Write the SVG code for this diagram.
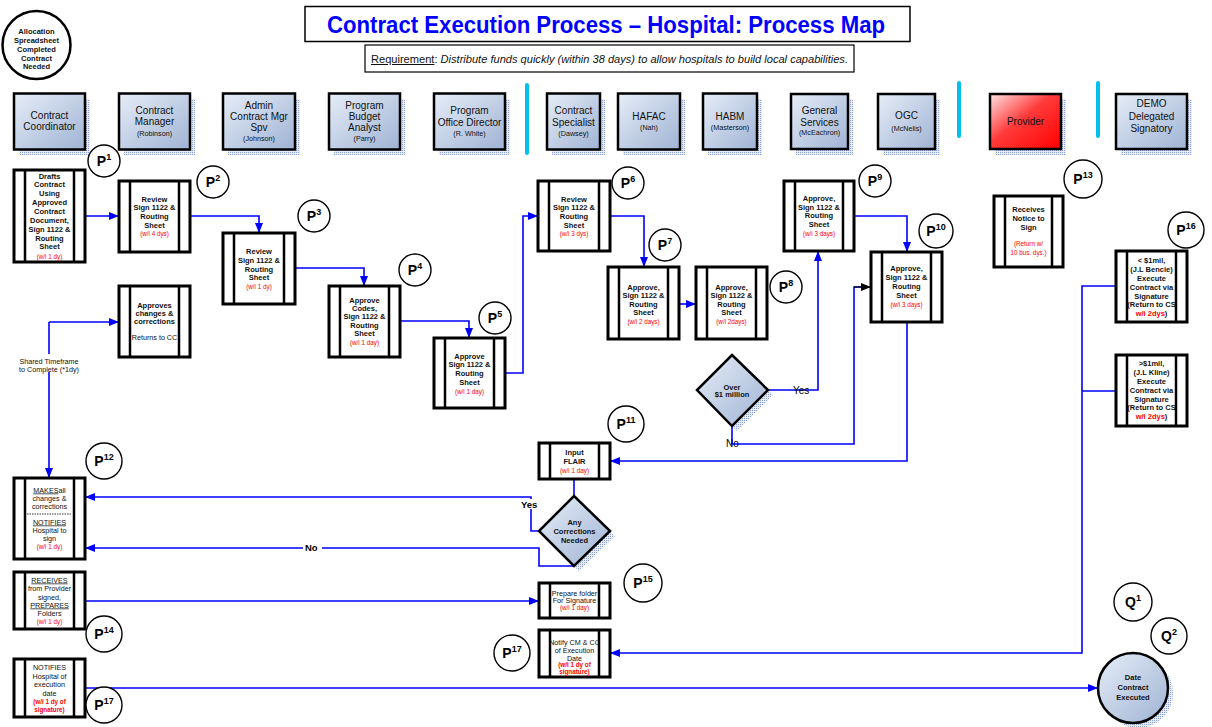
<svg xmlns="http://www.w3.org/2000/svg" width="1212" height="727" viewBox="0 0 1212 727">
<defs>
<linearGradient id="hg" x1="0" y1="0" x2="1" y2="1"><stop offset="0" stop-color="#e6edf7"/><stop offset="1" stop-color="#9fb3d4"/></linearGradient>
<linearGradient id="rg" x1="0" y1="0" x2="1" y2="1"><stop offset="0" stop-color="#ffe4e4"/><stop offset="0.45" stop-color="#ff3a3a"/><stop offset="1" stop-color="#ff0000"/></linearGradient>
<pattern id="dots" width="2" height="2" patternUnits="userSpaceOnUse"><rect width="2" height="2" fill="#e8ecf8"/><rect width="1" height="1" fill="#8fa4d6"/></pattern>
<marker id="ah" markerWidth="10" markerHeight="8" refX="10" refY="4" orient="auto" markerUnits="userSpaceOnUse"><path d="M0,0 L10,4 L0,8 z" fill="#0000ff"/></marker>
<marker id="ak" markerWidth="10" markerHeight="8" refX="10" refY="4" orient="auto" markerUnits="userSpaceOnUse"><path d="M0,0 L10,4 L0,8 z" fill="#000"/></marker>
</defs>
<style>
text{font-family:'Liberation Sans',Arial,sans-serif}
.pb{fill:#fff;stroke:#000;stroke-width:3}
.pv{stroke:#000;stroke-width:2.5}
.hb{fill:url(#hg);stroke:#000;stroke-width:2.5}
.sh{fill:url(#dots)}
.b{font-size:7.5px;font-weight:bold;text-anchor:middle;fill:#111}
.r{font-size:6.3px;text-anchor:middle;fill:#ff0000}
.n{font-size:7.2px;text-anchor:middle;fill:#111}
.h{font-size:10px;text-anchor:middle;fill:#111}
.hs{font-size:7.2px;text-anchor:middle;fill:#111}
.pc{fill:#fff;stroke:#000;stroke-width:1.4}
.pt{font-size:14px;font-weight:bold;text-anchor:middle;fill:#000}
.sup{font-size:9px}
.c{fill:none;stroke:#0000ff;stroke-width:1.6}
.ca{marker-end:url(#ah)}
.dv{stroke:#00c0f0;stroke-width:4;stroke-linecap:round}
.u{text-decoration:underline}
.lb{font-size:10px;fill:#000}
.lbb{font-size:9.5px;font-weight:bold;fill:#000}
</style>
<rect width="1212" height="727" fill="#fff"/>

<!-- Title -->
<g id="title">
<rect x="305" y="6.5" width="605" height="35" fill="#fff" stroke="#000" stroke-width="1.5"/>
<text x="606" y="33" font-size="23" font-weight="bold" fill="#0000ff" text-anchor="middle" textLength="558" lengthAdjust="spacingAndGlyphs">Contract Execution Process – Hospital: Process Map</text>
</g>
<g id="requirement">
<rect x="365" y="45" width="489" height="27" fill="#fff" stroke="#000" stroke-width="1.2"/>
<text x="371" y="63" font-size="10" fill="#111" textLength="477" lengthAdjust="spacingAndGlyphs"><tspan class="u">Requirement</tspan>: <tspan font-style="italic">Distribute funds quickly (within 38 days) to allow hospitals to build local capabilities.</tspan></text>
</g>

<!-- Start circle -->
<g id="start">
<circle cx="36.5" cy="45" r="34" fill="#fff" stroke="#000" stroke-width="2.5"/>
<text class="b" x="36.5" y="33.5" font-size="7.2">Allocation</text>
<text class="b" x="36.5" y="42.5" font-size="7.2">Spreadsheet</text>
<text class="b" x="36.5" y="51.5" font-size="7.2">Completed</text>
<text class="b" x="36.5" y="60.5" font-size="7.2">Contract</text>
<text class="b" x="36.5" y="68.5" font-size="7.2">Needed</text>
</g>

<!-- Dividers -->
<line class="dv" x1="527" y1="85" x2="527" y2="153"/>
<line class="dv" x1="959" y1="83" x2="959" y2="136"/>
<line class="dv" x1="1098" y1="83" x2="1098" y2="136"/>

<!-- Header lanes -->
<g id="h-cc"><rect class="sh" x="19" y="99" width="71" height="56"/><rect class="hb" x="14" y="93.5" width="71" height="56"/>
<text class="h" x="49.5" y="118.6">Contract</text><text class="h" x="49.5" y="130.3">Coordinator</text></g>
<g id="h-cm"><rect class="sh" x="124" y="99" width="71" height="56"/><rect class="hb" x="119" y="93.5" width="71" height="56"/>
<text class="h" x="154.5" y="113.6">Contract</text><text class="h" x="154.5" y="125.3">Manager</text><text class="hs" x="154.5" y="135.8">(Robinson)</text></g>
<g id="h-admin"><rect class="sh" x="228" y="99" width="72" height="56"/><rect class="hb" x="223" y="93.5" width="72" height="56"/>
<text class="h" x="259" y="108.6">Admin</text><text class="h" x="259" y="120.3">Contract Mgr</text><text class="h" x="259" y="131.3">Spv</text><text class="hs" x="259" y="140.8">(Johnson)</text></g>
<g id="h-pba"><rect class="sh" x="334" y="99" width="71" height="56"/><rect class="hb" x="329" y="93.5" width="71" height="56"/>
<text class="h" x="364.5" y="108.6">Program</text><text class="h" x="364.5" y="120.3">Budget</text><text class="h" x="364.5" y="131.3">Analyst</text><text class="hs" x="364.5" y="140.8">(Parry)</text></g>
<g id="h-pod"><rect class="sh" x="439" y="99" width="71" height="56"/><rect class="hb" x="434" y="93.5" width="71" height="56"/>
<text class="h" x="469.5" y="114.3">Program</text><text class="h" x="469.5" y="126">Office Director</text><text class="hs" x="469.5" y="135.8">(R. White)</text></g>
<g id="h-cs"><rect class="sh" x="552" y="99" width="53" height="56"/><rect class="hb" x="547" y="93.5" width="53" height="56"/>
<text class="h" x="573.5" y="113.6">Contract</text><text class="h" x="573.5" y="126">Specialist</text><text class="hs" x="573.5" y="135.8">(Dawsey)</text></g>
<g id="h-hafac"><rect class="sh" x="623" y="99" width="62" height="56"/><rect class="hb" x="618" y="93.5" width="62" height="56"/>
<text class="h" x="649" y="120.3">HAFAC</text><text class="hs" x="649" y="130.2">(Nah)</text></g>
<g id="h-habm"><rect class="sh" x="708" y="99" width="54" height="56"/><rect class="hb" x="703" y="93.5" width="54" height="56"/>
<text class="h" x="730" y="120.3">HABM</text><text class="hs" x="730" y="130.2">(Masterson)</text></g>
<g id="h-gs"><rect class="sh" x="796" y="99" width="57" height="56"/><rect class="hb" x="791" y="94" width="57" height="55"/>
<text class="h" x="819.5" y="113.6">General</text><text class="h" x="819.5" y="126">Services</text><text class="hs" x="819.5" y="135.2">(McEachron)</text></g>
<g id="h-ogc"><rect class="sh" x="883" y="99" width="57" height="56"/><rect class="hb" x="878" y="94" width="57" height="55"/>
<text class="h" x="906.5" y="118.6">OGC</text><text class="hs" x="906.5" y="130.8">(McNelis)</text></g>
<g id="h-provider"><rect class="sh" x="995" y="99" width="71" height="56"/><rect x="990" y="94" width="71" height="55" fill="url(#rg)" stroke="#000" stroke-width="2.5"/>
<text class="h" x="1025.5" y="124.6">Provider</text></g>
<g id="h-demo"><rect class="sh" x="1121" y="99" width="71" height="56"/><rect class="hb" x="1116" y="94" width="71" height="55"/>
<text class="h" x="1151.5" y="107">DEMO</text><text class="h" x="1151.5" y="119.6">Delegated</text><text class="h" x="1151.5" y="131.6">Signatory</text></g>

<!-- Connectors -->
<g id="connectors">
<path class="c ca" d="M85,216 H119"/>
<path class="c ca" d="M190,216 H259 V233"/>
<path class="c ca" d="M295,268 H364 V286"/>
<path class="c ca" d="M400,321 H469 V338"/>
<path class="c ca" d="M505,373 H523 V216 H538"/>
<path class="c ca" d="M610,216 H644 V267"/>
<path class="c ca" d="M679,304 H696"/>
<path class="c ca" d="M768,390 H818 V251"/>
<path class="c" d="M732,426 V444 H854 V287 H861"/>
<path d="M854,287 H871" fill="none" stroke="#000" stroke-width="1.2" marker-end="url(#ak)"/>
<path class="c ca" d="M854,216 H907 V252"/>
<path class="c ca" d="M907,322 V461 H610"/>
<path class="c" d="M574,479 V496"/>
<path class="c ca" d="M539,531 H531 V497 H85"/>
<path class="c ca" d="M574,566 H539 V548 H85"/>
<path class="c ca" d="M49,322 V478"/>
<path class="c ca" d="M49,322 H119"/>
<path class="c ca" d="M85,601 H539"/>
<path class="c ca" d="M85,688 H1098"/>
<path class="c ca" d="M1116,286 H1082 V653 H610"/>
<path class="c" d="M1116,391 H1082"/>
<rect x="16" y="354" width="68" height="18" fill="#fff"/>
<text class="n" x="49" y="363.5" font-size="7.5">Shared Timeframe</text>
<text class="n" x="49" y="371.5" font-size="7.5">to Complete (*1dy)</text>
<text class="lb" x="793" y="393.5">Yes</text>
<text class="lb" x="726" y="446.5">No</text>
<rect x="520" y="499" width="20" height="10" fill="#fff"/>
<text class="lbb" x="521" y="507.5">Yes</text>
<rect x="303" y="542" width="19" height="10" fill="#fff"/>
<text class="lbb" x="305" y="551">No</text>
</g>

<!-- Process boxes -->
<g id="p1"><rect class="pb" x="14" y="170" width="71" height="92"/><line class="pv" x1="25" y1="170" x2="25" y2="262"/><line class="pv" x1="74" y1="170" x2="74" y2="262"/>
<text class="b" x="49.5" y="178.5">Drafts</text><text class="b" x="49.5" y="187">Contract</text><text class="b" x="49.5" y="196">Using</text><text class="b" x="49.5" y="205">Approved</text><text class="b" x="49.5" y="214">Contract</text><text class="b" x="49.5" y="223">Document,</text><text class="b" x="49.5" y="232">Sign 1122 &amp;</text><text class="b" x="49.5" y="241">Routing</text><text class="b" x="49.5" y="249">Sheet</text><text class="r" x="49.5" y="258.5">(w/i 1 dy)</text></g>

<g id="p2"><rect class="pb" x="119" y="181" width="71" height="71"/><line class="pv" x1="130" y1="181" x2="130" y2="252"/><line class="pv" x1="179" y1="181" x2="179" y2="252"/>
<text class="b" x="154.5" y="202">Review</text><text class="b" x="154.5" y="210">Sign 1122 &amp;</text><text class="b" x="154.5" y="219">Routing</text><text class="b" x="154.5" y="228">Sheet</text><text class="r" x="154.5" y="236">(w/i 4 dys)</text></g>

<g id="p3"><rect class="pb" x="223" y="233" width="72" height="71"/><line class="pv" x1="234" y1="233" x2="234" y2="304"/><line class="pv" x1="284" y1="233" x2="284" y2="304"/>
<text class="b" x="259" y="254">Review</text><text class="b" x="259" y="263">Sign 1122 &amp;</text><text class="b" x="259" y="272">Routing</text><text class="b" x="259" y="280">Sheet</text><text class="r" x="259" y="288.5">(w/i 1 dy)</text></g>

<g id="p4"><rect class="pb" x="329" y="286" width="71" height="71"/><line class="pv" x1="340" y1="286" x2="340" y2="357"/><line class="pv" x1="389" y1="286" x2="389" y2="357"/>
<text class="b" x="364.5" y="303">Approve</text><text class="b" x="364.5" y="311">Codes,</text><text class="b" x="364.5" y="319">Sign 1122 &amp;</text><text class="b" x="364.5" y="328">Routing</text><text class="b" x="364.5" y="336">Sheet</text><text class="r" x="364.5" y="344.5">(w/i 1 day)</text></g>

<g id="p5"><rect class="pb" x="434" y="338" width="71" height="70"/><line class="pv" x1="445" y1="338" x2="445" y2="408"/><line class="pv" x1="494" y1="338" x2="494" y2="408"/>
<text class="b" x="469.5" y="359">Approve</text><text class="b" x="469.5" y="367">Sign 1122 &amp;</text><text class="b" x="469.5" y="376">Routing</text><text class="b" x="469.5" y="385">Sheet</text><text class="r" x="469.5" y="393.5">(w/i 1 day)</text></g>

<g id="p6"><rect class="pb" x="538" y="181" width="72" height="70"/><line class="pv" x1="549" y1="181" x2="549" y2="251"/><line class="pv" x1="599" y1="181" x2="599" y2="251"/>
<text class="b" x="574" y="202">Review</text><text class="b" x="574" y="210">Sign 1122 &amp;</text><text class="b" x="574" y="219">Routing</text><text class="b" x="574" y="228">Sheet</text><text class="r" x="574" y="235.5">(w/i 3 dys)</text></g>

<g id="p7"><rect class="pb" x="608" y="267" width="71" height="72"/><line class="pv" x1="619" y1="267" x2="619" y2="339"/><line class="pv" x1="668" y1="267" x2="668" y2="339"/>
<text class="b" x="643.5" y="290">Approve,</text><text class="b" x="643.5" y="298">Sign 1122 &amp;</text><text class="b" x="643.5" y="307">Routing</text><text class="b" x="643.5" y="315">Sheet</text><text class="r" x="643.5" y="323.5">(w/i 2 days)</text></g>

<g id="p8"><rect class="pb" x="696" y="267" width="71" height="72"/><line class="pv" x1="707" y1="267" x2="707" y2="339"/><line class="pv" x1="756" y1="267" x2="756" y2="339"/>
<text class="b" x="731.5" y="290">Approve,</text><text class="b" x="731.5" y="298">Sign 1122 &amp;</text><text class="b" x="731.5" y="307">Routing</text><text class="b" x="731.5" y="315">Sheet</text><text class="r" x="731.5" y="323.5">(w/i 2days)</text></g>

<g id="p9"><rect class="pb" x="784" y="181" width="70" height="70"/><line class="pv" x1="795" y1="181" x2="795" y2="251"/><line class="pv" x1="843" y1="181" x2="843" y2="251"/>
<text class="b" x="819" y="201">Approve,</text><text class="b" x="819" y="210">Sign 1122 &amp;</text><text class="b" x="819" y="218">Routing</text><text class="b" x="819" y="227">Sheet</text><text class="r" x="819" y="235.5">(w/i 3 days)</text></g>

<g id="p10"><rect class="pb" x="871" y="252" width="71" height="70"/><line class="pv" x1="882" y1="252" x2="882" y2="322"/><line class="pv" x1="931" y1="252" x2="931" y2="322"/>
<text class="b" x="906.5" y="271">Approve,</text><text class="b" x="906.5" y="280">Sign 1122 &amp;</text><text class="b" x="906.5" y="289">Routing</text><text class="b" x="906.5" y="298">Sheet</text><text class="r" x="906.5" y="306.5">(w/i 3 days)</text></g>

<g id="d-over"><polygon class="sh" points="737,360 773,395 737,431 701,395"/><polygon points="732,355 768,390 732,426 697,390" fill="url(#hg)" stroke="#000" stroke-width="2.5"/>
<text class="b" x="732" y="389.5">Over</text><text class="b" x="732" y="397">$1 million</text></g>

<g id="p11"><rect class="pb" x="539" y="443" width="71" height="36"/><line class="pv" x1="550" y1="443" x2="550" y2="479"/><line class="pv" x1="599" y1="443" x2="599" y2="479"/>
<text class="b" x="574.5" y="455">Input</text><text class="b" x="574.5" y="464">FLAIR</text><text class="r" x="574.5" y="472.5">(w/i 1 day)</text></g>

<g id="d-corr"><polygon class="sh" points="579,501 615,536 579,571 544,536"/><polygon points="574,496 610,531 574,566 539,531" fill="url(#hg)" stroke="#000" stroke-width="2.5"/>
<text class="b" x="574.5" y="524.5">Any</text><text class="b" x="574.5" y="533.5">Corrections</text><text class="b" x="574.5" y="542.5">Needed</text></g>

<g id="approves"><rect class="pb" x="119" y="286" width="71" height="71"/><line class="pv" x1="130" y1="286" x2="130" y2="357"/><line class="pv" x1="179" y1="286" x2="179" y2="357"/>
<text class="b" x="154.5" y="308">Approves</text><text class="b" x="154.5" y="316">changes &amp;</text><text class="b" x="154.5" y="324">corrections</text><text class="n" x="154.5" y="339.5" font-size="6.4">Returns to CC</text></g>

<g id="p12"><rect class="pb" x="14" y="478" width="71" height="81"/><line class="pv" x1="25" y1="478" x2="25" y2="559"/><line class="pv" x1="74" y1="478" x2="74" y2="559"/>
<text class="n" x="49.5" y="492.5"><tspan class="u">MAKES</tspan>all</text><text class="n" x="49.5" y="500.5">changes &amp;</text><text class="n" x="49.5" y="508.5">corrections</text>
<line x1="27" y1="514" x2="72" y2="514" stroke="#000" stroke-width="0.8" stroke-dasharray="1.5,1"/>
<text class="n" x="49.5" y="524.5"><tspan class="u">NOTIFIES</tspan></text><text class="n" x="49.5" y="532.5">Hospital to</text><text class="n" x="49.5" y="540.5">sign</text><text class="r" x="49.5" y="549">(w/i 1 dy)</text></g>

<g id="p14"><rect class="pb" x="14" y="572" width="71" height="57"/><line class="pv" x1="25" y1="572" x2="25" y2="629"/><line class="pv" x1="74" y1="572" x2="74" y2="629"/>
<text class="n" x="49.5" y="582.5"><tspan class="u">RECEIVES</tspan></text><text class="n" x="49.5" y="590.5">from Provider</text><text class="n" x="49.5" y="599.5">signed,</text><text class="n" x="49.5" y="607.5"><tspan class="u">PREPARES</tspan></text><text class="n" x="49.5" y="615.5">Folders</text><text class="r" x="49.5" y="623.5">(w/i 1 dy)</text></g>

<g id="p17a"><rect class="pb" x="14" y="659" width="71" height="58"/><line class="pv" x1="25" y1="659" x2="25" y2="717"/><line class="pv" x1="74" y1="659" x2="74" y2="717"/>
<text class="n" x="49.5" y="669.5">NOTIFIES</text><text class="n" x="49.5" y="678.5">Hospital of</text><text class="n" x="49.5" y="686.5">execution</text><text class="n" x="49.5" y="695.5">date</text><text class="r" x="49.5" y="704" font-size="5.3" font-weight="bold">(w/i 1 dy of</text><text class="r" x="49.5" y="712" font-size="5.3" font-weight="bold">signature)</text></g>

<g id="p15"><rect class="pb" x="539" y="583" width="71" height="35"/><line class="pv" x1="550" y1="583" x2="550" y2="618"/><line class="pv" x1="599" y1="583" x2="599" y2="618"/>
<text class="n" x="574.5" y="595.5" font-size="6">Prepare folder</text><text class="n" x="574.5" y="602.5" font-size="6">For  Signature</text><text class="r" x="574.5" y="610" font-size="6">(w/i 1 day)</text></g>

<g id="p17b"><rect class="pb" x="539" y="630" width="71" height="47"/><line class="pv" x1="550" y1="630" x2="550" y2="677"/><line class="pv" x1="599" y1="630" x2="599" y2="677"/>
<text class="n" x="574.5" y="645" font-size="5.6">Notify CM &amp; CC</text><text class="n" x="574.5" y="652.5" font-size="5.8">of Execution</text><text class="n" x="574.5" y="660.5" font-size="5.8">Date</text><text class="r" x="574.5" y="667" font-size="5.2" font-weight="bold">(w/i 1 dy of</text><text class="r" x="574.5" y="674" font-size="5.2" font-weight="bold">signature)</text></g>

<g id="p13"><rect class="pb" x="994" y="196" width="69" height="71"/><line class="pv" x1="1005" y1="196" x2="1005" y2="267"/><line class="pv" x1="1052" y1="196" x2="1052" y2="267"/>
<text class="b" x="1028.5" y="212">Receives</text><text class="b" x="1028.5" y="221">Notice to</text><text class="b" x="1028.5" y="230">Sign</text><text class="r" x="1028.5" y="245.5">(Return w/</text><text class="r" x="1028.5" y="254.5">10 bus. dys.)</text></g>

<g id="p16a"><rect class="pb" x="1116" y="251" width="71" height="71"/><line class="pv" x1="1127" y1="251" x2="1127" y2="322"/><line class="pv" x1="1176" y1="251" x2="1176" y2="322"/>
<text class="b" x="1151.5" y="263" font-size="7">&lt; $1mil,</text><text class="b" x="1151.5" y="272" font-size="7">(J.L Bencie)</text><text class="b" x="1151.5" y="281" font-size="7.4" font-weight="normal">Execute</text><text class="b" x="1151.5" y="290" font-size="7.4" font-weight="normal">Contract via</text><text class="b" x="1151.5" y="299" font-size="7.4" font-weight="normal">Signature</text><text class="b" x="1151.5" y="306.5" fill="#ff0000" font-size="6.1">(Return to CS</text><text class="b" x="1151.5" y="315.5" font-size="6.1"><tspan fill="#ff0000">w/i 2dys</tspan>)</text></g>

<g id="p16b"><rect class="pb" x="1116" y="355" width="71" height="71"/><line class="pv" x1="1127" y1="355" x2="1127" y2="426"/><line class="pv" x1="1176" y1="355" x2="1176" y2="426"/>
<text class="b" x="1151.5" y="366" font-size="7">&gt;$1mil,</text><text class="b" x="1151.5" y="375" font-size="7">(J.L Kline)</text><text class="b" x="1151.5" y="384" font-size="7.4" font-weight="normal">Execute</text><text class="b" x="1151.5" y="393" font-size="7.4" font-weight="normal">Contract via</text><text class="b" x="1151.5" y="402" font-size="7.4" font-weight="normal">Signature</text><text class="b" x="1151.5" y="409.5" fill="#ff0000" font-size="6.1">(Return to CS</text><text class="b" x="1151.5" y="418.5" font-size="6.1"><tspan fill="#ff0000">w/i 2dys</tspan>)</text></g>

<g id="end"><circle class="sh" cx="1138" cy="693" r="35"/><circle cx="1133" cy="688" r="35" fill="url(#hg)" stroke="#000" stroke-width="2.5"/>
<text class="b" x="1133" y="679.5">Date</text><text class="b" x="1133" y="689.5">Contract</text><text class="b" x="1133" y="699.5">Executed</text></g>

<!-- Step labels -->
<g id="labels">
<g id="lp1"><circle class="pc" cx="104" cy="161" r="16"/><text class="pt" x="104" y="166">P<tspan class="sup" dy="-6">1</tspan></text></g>
<g id="lp2"><circle class="pc" cx="213" cy="182" r="16"/><text class="pt" x="213" y="187">P<tspan class="sup" dy="-6">2</tspan></text></g>
<g id="lp3"><circle class="pc" cx="314" cy="216" r="16"/><text class="pt" x="314" y="221">P<tspan class="sup" dy="-6">3</tspan></text></g>
<g id="lp4"><circle class="pc" cx="415" cy="270" r="16"/><text class="pt" x="415" y="275">P<tspan class="sup" dy="-6">4</tspan></text></g>
<g id="lp5"><circle class="pc" cx="495" cy="318" r="16"/><text class="pt" x="495" y="323">P<tspan class="sup" dy="-6">5</tspan></text></g>
<g id="lp6"><circle class="pc" cx="628" cy="183" r="16"/><text class="pt" x="628" y="188">P<tspan class="sup" dy="-6">6</tspan></text></g>
<g id="lp7"><circle class="pc" cx="665" cy="245" r="16"/><text class="pt" x="665" y="250">P<tspan class="sup" dy="-6">7</tspan></text></g>
<g id="lp8"><circle class="pc" cx="786" cy="287" r="16"/><text class="pt" x="786" y="292">P<tspan class="sup" dy="-6">8</tspan></text></g>
<g id="lp9"><circle class="pc" cx="875" cy="181" r="16"/><text class="pt" x="875" y="186">P<tspan class="sup" dy="-6">9</tspan></text></g>
<g id="lp10"><circle class="pc" cx="936" cy="231" r="17"/><text class="pt" x="936" y="236">P<tspan class="sup" dy="-6">10</tspan></text></g>
<g id="lp11"><circle class="pc" cx="626" cy="424" r="18"/><text class="pt" x="626" y="429">P<tspan class="sup" dy="-6">11</tspan></text></g>
<g id="lp12"><circle class="pc" cx="104" cy="461" r="18"/><text class="pt" x="104" y="466">P<tspan class="sup" dy="-6">12</tspan></text></g>
<g id="lp13"><circle class="pc" cx="1083" cy="179" r="19"/><text class="pt" x="1083" y="184">P<tspan class="sup" dy="-6">13</tspan></text></g>
<g id="lp14"><circle class="pc" cx="104" cy="634" r="18"/><text class="pt" x="104" y="639">P<tspan class="sup" dy="-6">14</tspan></text></g>
<g id="lp15"><circle class="pc" cx="643" cy="583" r="19"/><text class="pt" x="643" y="588">P<tspan class="sup" dy="-6">15</tspan></text></g>
<g id="lp16"><circle class="pc" cx="1186" cy="230" r="18"/><text class="pt" x="1186" y="235">P<tspan class="sup" dy="-6">16</tspan></text></g>
<g id="lp17b"><circle class="pc" cx="512" cy="653" r="18"/><text class="pt" x="512" y="658">P<tspan class="sup" dy="-6">17</tspan></text></g>
<g id="lp17a"><circle class="pc" cx="104" cy="705" r="18"/><text class="pt" x="104" y="710">P<tspan class="sup" dy="-6">17</tspan></text></g>
<g id="lq1"><circle class="pc" cx="1133" cy="602" r="19"/><text class="pt" x="1133" y="607">Q<tspan class="sup" dy="-6">1</tspan></text></g>
<g id="lq2"><circle class="pc" cx="1169" cy="636" r="18"/><text class="pt" x="1169" y="641">Q<tspan class="sup" dy="-6">2</tspan></text></g>
</g>
</svg>
